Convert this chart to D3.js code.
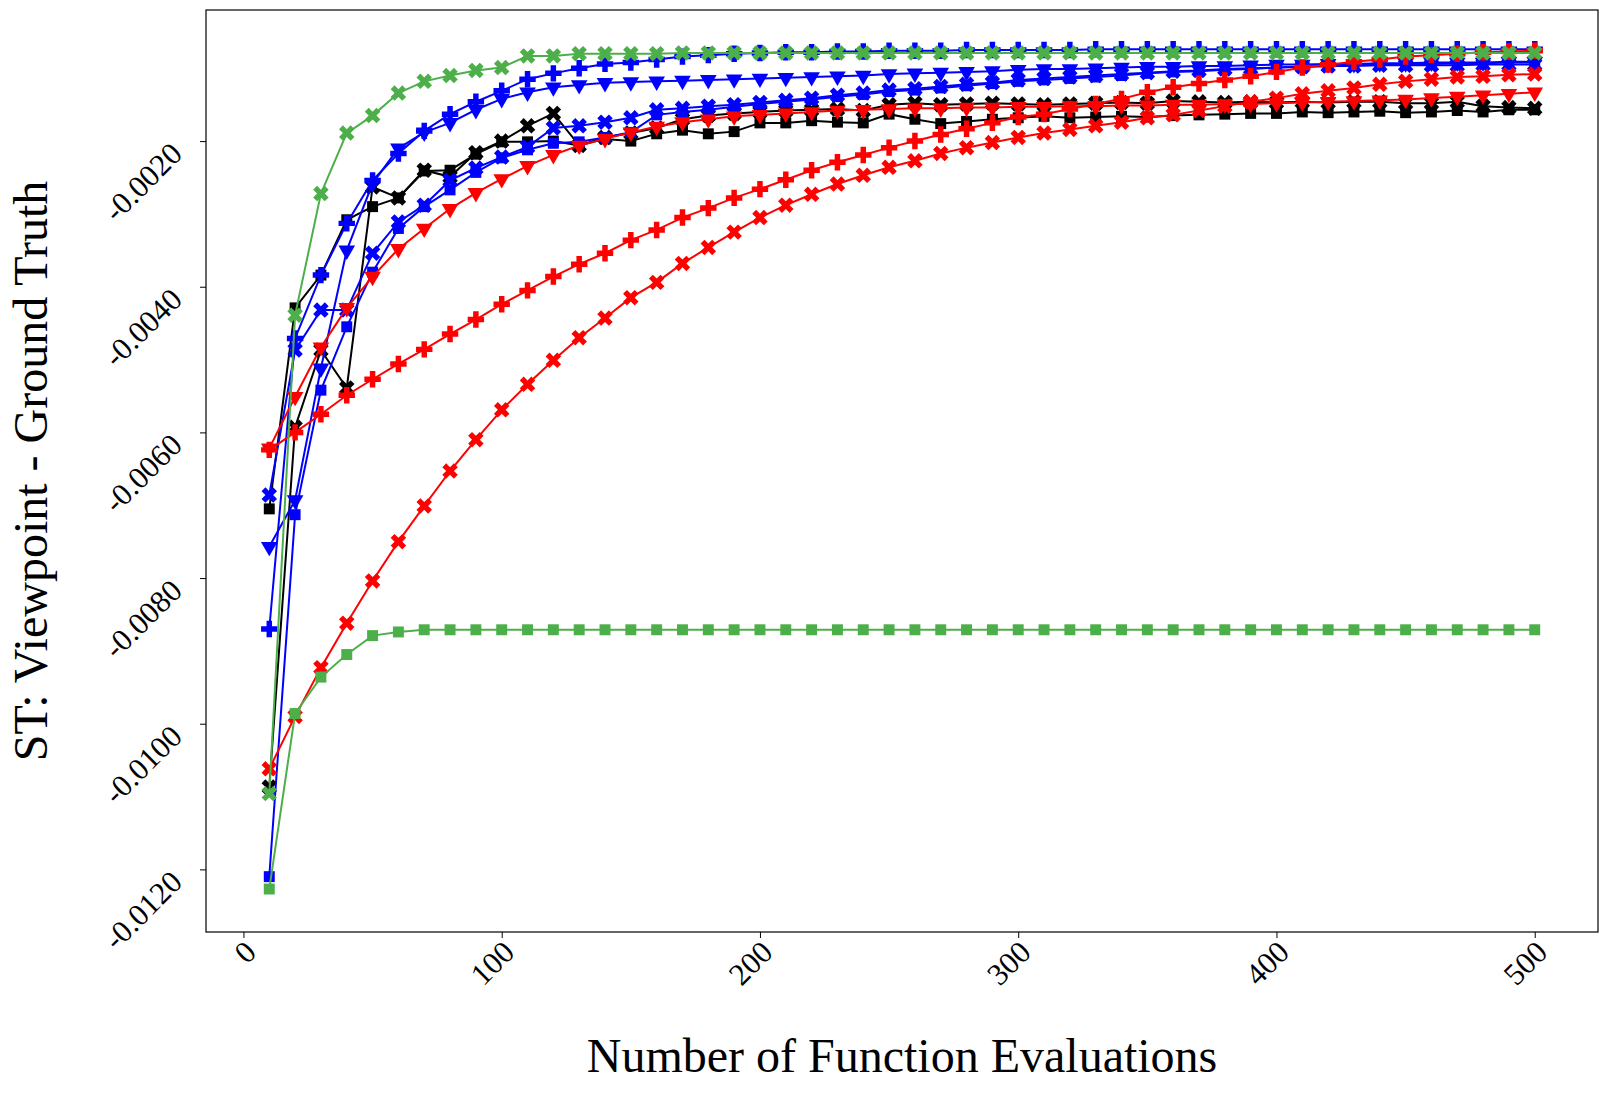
<!DOCTYPE html>
<html><head><meta charset="utf-8">
<script src="https://cdn.jsdelivr.net/npm/d3@7"></script>
<style>body{margin:0;background:#fff}svg{display:block}</style>
</head><body>
<script>
const xs = d3.range(10, 501, 10);
const xTicks = [0,100,200,300,400,500];
const yTicks = [-0.0020,-0.0040,-0.0060,-0.0080,-0.0100,-0.0120];

const blackSquare = [-0.00705,-0.00429,-0.00384,-0.00308,-0.00290,-0.00278,-0.00241,-0.00240,-0.00218,-0.00201,-0.00201,-0.00200,-0.00206,-0.00197,-0.00200,-0.00190,-0.00185,-0.00190,-0.00187,-0.00175,-0.00175,-0.00172,-0.00174,-0.00175,-0.00163,-0.00170,-0.00176,-0.00173,-0.00170,-0.00168,-0.00166,-0.00168,-0.00167,-0.00166,-0.00167,-0.00165,-0.00164,-0.00163,-0.00162,-0.00162,-0.00160,-0.00161,-0.00160,-0.00159,-0.00161,-0.00160,-0.00158,-0.00160,-0.00157,-0.00157];
const blackX = [-0.01087,-0.00593,-0.00487,-0.00539,-0.00263,-0.00278,-0.00240,-0.00249,-0.00216,-0.00200,-0.00179,-0.00162,-0.00206,-0.00195,-0.00189,-0.00182,-0.00170,-0.00165,-0.00162,-0.00160,-0.00158,-0.00157,-0.00156,-0.00158,-0.00150,-0.00148,-0.00150,-0.00149,-0.00148,-0.00149,-0.00150,-0.00149,-0.00148,-0.00147,-0.00148,-0.00145,-0.00146,-0.00147,-0.00146,-0.00147,-0.00146,-0.00147,-0.00146,-0.00146,-0.00148,-0.00148,-0.00146,-0.00152,-0.00154,-0.00155];
const bluePlus = [-0.00870,-0.00471,-0.00384,-0.00313,-0.00254,-0.00217,-0.00186,-0.00163,-0.00146,-0.00131,-0.00115,-0.00107,-0.00100,-0.00094,-0.00092,-0.00088,-0.00084,-0.00082,-0.00080,-0.00079,-0.00078,-0.00078,-0.00077,-0.00077,-0.00076,-0.00076,-0.00076,-0.00075,-0.00075,-0.00075,-0.00075,-0.00075,-0.00074,-0.00074,-0.00074,-0.00074,-0.00074,-0.00074,-0.00074,-0.00074,-0.00074,-0.00074,-0.00074,-0.00074,-0.00074,-0.00074,-0.00074,-0.00074,-0.00074,-0.00074];
const blueTri = [-0.00757,-0.00693,-0.00512,-0.00350,-0.00258,-0.00210,-0.00188,-0.00175,-0.00157,-0.00142,-0.00133,-0.00126,-0.00123,-0.00120,-0.00119,-0.00118,-0.00117,-0.00116,-0.00115,-0.00114,-0.00113,-0.00112,-0.00111,-0.00110,-0.00108,-0.00107,-0.00106,-0.00105,-0.00104,-0.00102,-0.00101,-0.00101,-0.00100,-0.00099,-0.00098,-0.00098,-0.00097,-0.00097,-0.00096,-0.00095,-0.00095,-0.00094,-0.00094,-0.00093,-0.00093,-0.00092,-0.00092,-0.00092,-0.00091,-0.00091];
const blueX = [-0.00686,-0.00487,-0.00432,-0.00432,-0.00354,-0.00311,-0.00288,-0.00254,-0.00237,-0.00222,-0.00208,-0.00182,-0.00179,-0.00174,-0.00168,-0.00157,-0.00155,-0.00152,-0.00150,-0.00147,-0.00144,-0.00141,-0.00137,-0.00134,-0.00130,-0.00128,-0.00125,-0.00122,-0.00120,-0.00116,-0.00114,-0.00112,-0.00110,-0.00108,-0.00106,-0.00104,-0.00103,-0.00101,-0.00100,-0.00099,-0.00098,-0.00097,-0.00097,-0.00096,-0.00096,-0.00096,-0.00096,-0.00095,-0.00095,-0.00095];
const blueSquare = [-0.01210,-0.00713,-0.00542,-0.00455,-0.00380,-0.00320,-0.00290,-0.00267,-0.00243,-0.00223,-0.00212,-0.00203,-0.00201,-0.00195,-0.00188,-0.00164,-0.00160,-0.00157,-0.00153,-0.00149,-0.00146,-0.00143,-0.00139,-0.00136,-0.00132,-0.00130,-0.00127,-0.00124,-0.00121,-0.00118,-0.00116,-0.00114,-0.00112,-0.00110,-0.00107,-0.00105,-0.00104,-0.00102,-0.00101,-0.00099,-0.00098,-0.00097,-0.00096,-0.00095,-0.00094,-0.00094,-0.00093,-0.00093,-0.00092,-0.00092];
const redTri = [-0.00622,-0.00551,-0.00483,-0.00429,-0.00386,-0.00348,-0.00320,-0.00293,-0.00271,-0.00252,-0.00234,-0.00219,-0.00206,-0.00197,-0.00188,-0.00180,-0.00174,-0.00170,-0.00166,-0.00164,-0.00162,-0.00160,-0.00158,-0.00157,-0.00156,-0.00155,-0.00155,-0.00154,-0.00154,-0.00153,-0.00153,-0.00152,-0.00152,-0.00151,-0.00151,-0.00150,-0.00150,-0.00149,-0.00149,-0.00148,-0.00147,-0.00146,-0.00145,-0.00144,-0.00143,-0.00141,-0.00139,-0.00137,-0.00135,-0.00133];
const redPlus = [-0.00624,-0.00600,-0.00575,-0.00549,-0.00527,-0.00506,-0.00486,-0.00465,-0.00445,-0.00424,-0.00405,-0.00386,-0.00369,-0.00354,-0.00336,-0.00322,-0.00305,-0.00292,-0.00278,-0.00266,-0.00253,-0.00240,-0.00229,-0.00219,-0.00209,-0.00200,-0.00191,-0.00183,-0.00175,-0.00167,-0.00163,-0.00156,-0.00149,-0.00142,-0.00133,-0.00126,-0.00121,-0.00116,-0.00111,-0.00105,-0.00099,-0.00095,-0.00091,-0.00088,-0.00084,-0.00082,-0.00080,-0.00078,-0.00077,-0.00076];
const redX = [-0.01062,-0.00990,-0.00923,-0.00862,-0.00804,-0.00750,-0.00701,-0.00653,-0.00610,-0.00569,-0.00534,-0.00501,-0.00470,-0.00443,-0.00415,-0.00394,-0.00368,-0.00346,-0.00325,-0.00305,-0.00288,-0.00273,-0.00259,-0.00247,-0.00236,-0.00227,-0.00217,-0.00209,-0.00202,-0.00195,-0.00189,-0.00184,-0.00179,-0.00174,-0.00168,-0.00164,-0.00158,-0.00152,-0.00146,-0.00141,-0.00135,-0.00131,-0.00127,-0.00122,-0.00118,-0.00115,-0.00112,-0.00111,-0.00109,-0.00108];
const greenX = [-0.01096,-0.00439,-0.00272,-0.00189,-0.00165,-0.00134,-0.00118,-0.00110,-0.00103,-0.00099,-0.00083,-0.00083,-0.00080,-0.00080,-0.00080,-0.00080,-0.00079,-0.00079,-0.00079,-0.00079,-0.00079,-0.00079,-0.00079,-0.00079,-0.00079,-0.00079,-0.00079,-0.00079,-0.00079,-0.00079,-0.00079,-0.00079,-0.00079,-0.00079,-0.00079,-0.00079,-0.00079,-0.00079,-0.00079,-0.00079,-0.00079,-0.00079,-0.00079,-0.00079,-0.00079,-0.00079,-0.00079,-0.00079,-0.00079,-0.00079];
const greenSquare = [-0.01227,-0.00986,-0.00936,-0.00905,-0.00879,-0.00874,-0.00871,-0.00871,-0.00871,-0.00871,-0.00871,-0.00871,-0.00871,-0.00871,-0.00871,-0.00871,-0.00871,-0.00871,-0.00871,-0.00871,-0.00871,-0.00871,-0.00871,-0.00871,-0.00871,-0.00871,-0.00871,-0.00871,-0.00871,-0.00871,-0.00871,-0.00871,-0.00871,-0.00871,-0.00871,-0.00871,-0.00871,-0.00871,-0.00871,-0.00871,-0.00871,-0.00871,-0.00871,-0.00871,-0.00871,-0.00871,-0.00871,-0.00871,-0.00871,-0.00871];

const series = [
  {v: blackSquare, c: "#000000", m: "square"},
  {v: blackX, c: "#000000", m: "x"},
  {v: blueSquare, c: "#0000ff", m: "square"},
  {v: blueX, c: "#0000ff", m: "x"},
  {v: blueTri, c: "#0000ff", m: "tri"},
  {v: bluePlus, c: "#0000ff", m: "plus"},
  {v: redX, c: "#ff0000", m: "x"},
  {v: redPlus, c: "#ff0000", m: "plus"},
  {v: redTri, c: "#ff0000", m: "tri"},
  {v: greenSquare, c: "#4daf4a", m: "square"},
  {v: greenX, c: "#4daf4a", m: "x"}
];

const W = 1609, H = 1096;
const L = 206, R = 1598, T = 10, B = 932;
const svg = d3.select("body").append("svg").attr("width", W).attr("height", H);
const x = d3.scaleLinear().domain([-14.5, 524.5]).range([L, R]);
const y = d3.scaleLinear().domain([-0.01286, -0.0002]).range([B, T]);

const font = "'Liberation Serif','DejaVu Serif',serif";
const sym = {
  square: d3.symbol().type(d3.symbolSquare).size(120)(),
  plus: d3.symbol().type(d3.symbolCross).size(150)(),
  x: d3.symbol().type(d3.symbolCross).size(150)(),
  tri: d3.symbol().type(d3.symbolTriangle).size(120)()
};
const line = d3.line().x((d, i) => x(xs[i])).y(d => y(d));
series.forEach(s => {
  const g = svg.append("g");
  g.append("path").attr("d", line(s.v)).attr("fill", "none").attr("stroke", s.c).attr("stroke-width", 2);
  g.selectAll("path.m").data(s.v).join("path").attr("class", "m")
    .attr("d", sym[s.m]).attr("fill", s.c)
    .attr("transform", (d, i) => `translate(${x(xs[i])},${y(d)})` + (s.m === "x" ? " rotate(45)" : s.m === "tri" ? " rotate(180)" : ""));
});

svg.append("rect").attr("x", L).attr("y", T).attr("width", R - L).attr("height", B - T)
  .attr("fill", "none").attr("stroke", "#000").attr("stroke-width", 1.2);

const xa = svg.append("g").attr("transform", `translate(0,${B})`)
  .call(d3.axisBottom(x).tickValues(xTicks).tickSize(6).tickFormat(d3.format("d")));
xa.select(".domain").remove();
xa.selectAll("text").attr("font-family", font).attr("font-size", 31).attr("fill", "#000")
  .attr("text-anchor", "end").attr("dy", null).attr("y", 0)
  .attr("transform", "translate(14,22) rotate(-45)");
const ya = svg.append("g").attr("transform", `translate(${L},0)`)
  .call(d3.axisLeft(y).tickValues(yTicks).tickSize(6).tickFormat(d3.format(".4f")));
ya.select(".domain").remove();
ya.selectAll("text").attr("font-family", font).attr("font-size", 31).attr("fill", "#000")
  .attr("text-anchor", "end").attr("x", 0).attr("dy", null)
  .attr("transform", "translate(-22,14) rotate(-45)")
  .text(d => "-" + Math.abs(d).toFixed(4));

svg.append("text").attr("x", (L + R) / 2).attr("y", 1072).attr("text-anchor", "middle")
  .attr("font-family", font).attr("font-size", 48).text("Number of Function Evaluations");
svg.append("text").attr("transform", `translate(47,${(T + B) / 2}) rotate(-90)`).attr("text-anchor", "middle")
  .attr("font-family", font).attr("font-size", 48).text("ST: Viewpoint - Ground Truth");
</script>
</body></html>
